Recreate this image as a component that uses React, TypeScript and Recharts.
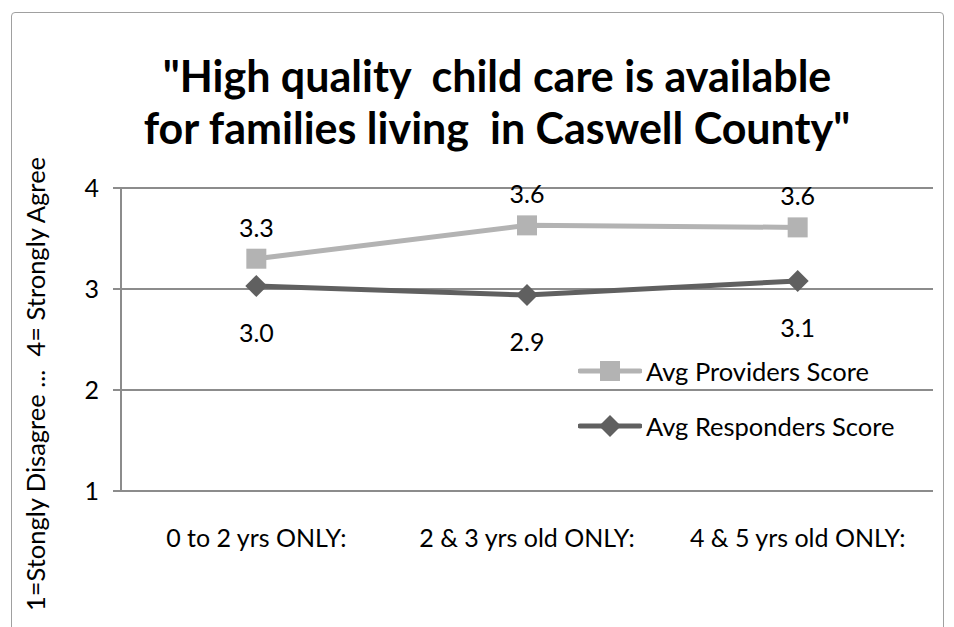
import React from "react";
import { CartesianGrid, LabelList, Legend, Line, LineChart, XAxis, YAxis } from "recharts";

const categories = ["0 to 2 yrs ONLY:", "2 & 3 yrs old ONLY:", "4 & 5 yrs old ONLY:"];
const providers = [3.3, 3.63, 3.61];
const responders = [3.03, 2.94, 3.08];
const yTicks = [1, 2, 3, 4];
const boundaryTicks = [0, 1, 2, 3];

const data = categories.map((c, i) => ({ cat: c, providers: providers[i], responders: responders[i] }));

const FONT = "Lato, 'Open Sans', sans-serif";
const LIGHT = "#b3b3b3";
const DARK = "#606060";
const GRID = "#8c8c8c";

const SquareDot = ({ cx, cy }: any) => (
  <rect x={cx - 10} y={cy - 10} width={20} height={20} fill={LIGHT} />
);

const DiamondDot = ({ cx, cy }: any) => (
  <polygon points={`${cx},${cy - 11} ${cx + 11},${cy} ${cx},${cy + 11} ${cx - 11},${cy}`} fill={DARK} />
);

const makeLabel = (dy: number) => ({ x, y, value }: any) => (
  <text x={x} y={y + dy} textAnchor="middle" dominantBaseline="central" fontSize={25} fontFamily={FONT} fill="#000">
    {Number(value).toFixed(1)}
  </text>
);

function LegendBox() {
  const items = [
    { name: "Avg Providers Score", color: LIGHT, shape: "square" },
    { name: "Avg Responders Score", color: DARK, shape: "diamond" },
  ];
  return (
    <div style={{ fontFamily: FONT, fontSize: 25.5 }}>
      {items.map((it) => (
        <div key={it.name} style={{ display: "flex", alignItems: "center", height: 55 }}>
          <svg width={64} height={24} style={{ marginRight: 4 }}>
            <line x1={2} y1={12} x2={62} y2={12} stroke={it.color} strokeWidth={5} strokeLinecap="round" />
            {it.shape === "square" ? (
              <rect x={22} y={2} width={20} height={20} fill={it.color} />
            ) : (
              <polygon points="32,1 43,12 32,23 21,12" fill={it.color} />
            )}
          </svg>
          <span>{it.name}</span>
        </div>
      ))}
    </div>
  );
}

export default function App() {
  return (
    <div style={{ position: "absolute", left: 0, top: 0, width: 954, height: 627, background: "#fff", overflow: "hidden" }}>
      <div
        style={{
          position: "absolute",
          left: 11,
          top: 12,
          width: 931,
          height: 640,
          border: "1.5px solid #a0a0a0",
          borderRadius: 4,
        }}
      />
      <div
        style={{
          position: "absolute",
          left: 0,
          width: 994,
          top: 50,
          textAlign: "center",
          fontFamily: FONT,
          fontWeight: 700,
          fontSize: 43,
          lineHeight: "52px",
          color: "#000",
        }}
      >
        "High quality&nbsp; child care is available
        <br />
        for families living&nbsp; in Caswell County"
      </div>
      <div
        style={{
          position: "absolute",
          left: 35,
          top: 384,
          transform: "translate(-50%, -50%) rotate(-90deg)",
          whiteSpace: "nowrap",
          fontFamily: FONT,
          fontSize: 25.5,
          color: "#000",
        }}
      >
        1=Stongly Disagree ...&nbsp; 4= Strongly Agree
      </div>
      <LineChart
        width={954}
        height={627}
        data={data}
        margin={{ top: 188, right: 21, left: 0, bottom: 0 }}
        style={{ position: "absolute", left: 0, top: 0 }}
      >
        <CartesianGrid vertical={false} stroke={GRID} strokeWidth={2} xAxisId="c" />
        <XAxis
          xAxisId="c"
          dataKey="cat"
          scale="band"
          tickLine={false}
          axisLine={false}
          tick={{ fill: "#000", fontSize: 25, fontFamily: FONT }}
          tickMargin={24}
          height={128}
          interval={0}
        />
        <XAxis
          xAxisId="a"
          type="number"
          domain={[0, 3]}
          ticks={boundaryTicks}
          tick={false}
          axisLine={{ stroke: GRID, strokeWidth: 2 }}
          tickLine={{ stroke: GRID, strokeWidth: 2 }}
          tickSize={8}
          height={8}
        />
        <YAxis
          domain={[1, 4]}
          ticks={yTicks}
          width={121}
          axisLine={{ stroke: GRID, strokeWidth: 2 }}
          tickLine={{ stroke: GRID, strokeWidth: 2 }}
          tickSize={8}
          tickMargin={14}
          tick={{ fill: "#000", fontSize: 25, fontFamily: FONT }}
        />
        <Legend
          layout="horizontal"
          verticalAlign="middle"
          align="center"
          content={() => <LegendBox />}
          wrapperStyle={{ position: "absolute", left: 578, top: 343, width: 360, height: 110 }}
        />
        <Line
          xAxisId="c"
          dataKey="providers"
          stroke={LIGHT}
          strokeWidth={5}
          dot={<SquareDot />}
          activeDot={false}
          isAnimationActive={false}
        >
          <LabelList dataKey="providers" content={makeLabel(-32)} />
        </Line>
        <Line
          xAxisId="c"
          dataKey="responders"
          stroke={DARK}
          strokeWidth={5}
          dot={<DiamondDot />}
          activeDot={false}
          isAnimationActive={false}
        >
          <LabelList dataKey="responders" content={makeLabel(46)} />
        </Line>
      </LineChart>
    </div>
  );
}
